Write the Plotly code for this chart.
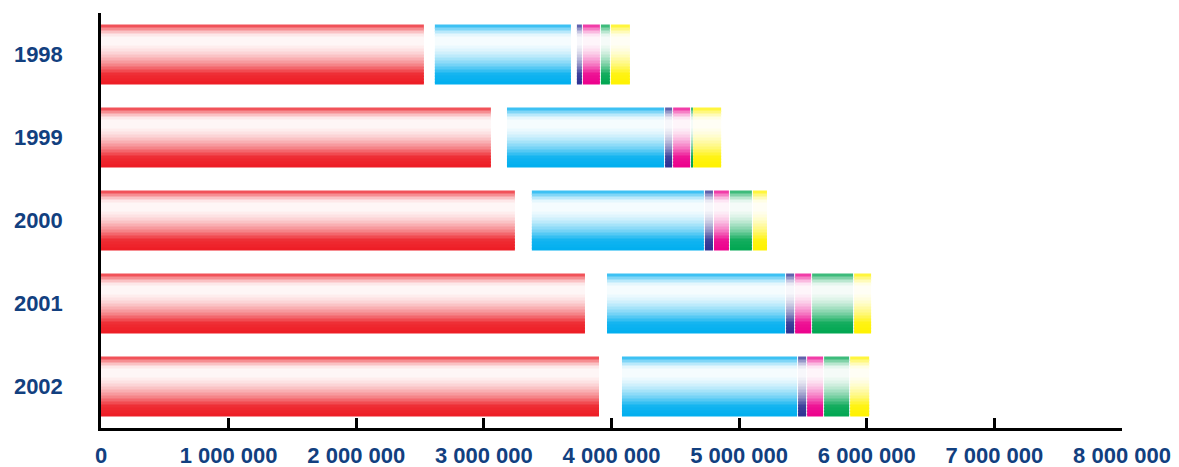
import numpy as np
import plotly.graph_objects as go

# ---- data ----
years = ["1998", "1999", "2000", "2001", "2002"]
red = [2538000, 3063000, 3251000, 3800000, 3910000]
gap_a = [78000, 118000, 125000, 165000, 172000]
blue = [1074000, 1239000, 1356000, 1403000, 1380000]
gap_b = [39000, 0, 0, 0, 0]
navy = [47000, 63000, 71000, 71000, 71000]
pink = [141000, 141000, 125000, 133000, 133000]
green = [78000, 16000, 180000, 329000, 204000]
yellow = [157000, 227000, 118000, 141000, 157000]

tick_values = [0, 1000000, 2000000, 3000000, 4000000, 5000000, 6000000, 7000000, 8000000]
tick_labels = ["0", "1 000 000", "2 000 000", "3 000 000", "4 000 000",
               "5 000 000", "6 000 000", "7 000 000", "8 000 000"]

# ---- styling ----
segments = [
    (red, (237, 28, 36), True),
    (gap_a, None, False),
    (blue, (0, 174, 239), True),
    (gap_b, None, False),
    (navy, (46, 49, 146), True),
    (pink, (236, 0, 140), True),
    (green, (0, 166, 81), True),
    (yellow, (255, 242, 0), True),
]

N_STRIPES = 20
BAR_W = 0.723
SEP = 8000  # small white separator at the right of each segment

# whiteness profile from top (0) to bottom (1)
prof_t = [0.0, 0.05, 0.1, 0.15, 0.2, 0.33, 0.42, 0.5, 0.58, 0.67, 0.75, 0.83, 1.0]
prof_w = [0.1, 0.38, 0.62, 0.84, 0.96, 0.96, 0.88, 0.78, 0.64, 0.47, 0.27, 0.07, 0.0]


def mix(c, w):
    r, g, b = [int(round(ch + (255 - ch) * w)) for ch in c]
    return f"rgb({r},{g},{b})"


fig = go.Figure()
starts = np.zeros(len(years))
stripe_w = BAR_W / N_STRIPES
for vals, col, visible in segments:
    v = np.array(vals, dtype=float)
    if visible:
        for i in range(N_STRIPES):
            t = (i + 0.5) / N_STRIPES
            w = float(np.interp(t, prof_t, prof_w))
            fig.add_trace(go.Bar(
                y=years,
                x=np.maximum(v - SEP, 0),
                base=starts.copy(),
                orientation="h",
                offset=-BAR_W / 2 + i * stripe_w,
                width=stripe_w * 1.5 if i < N_STRIPES - 1 else stripe_w,
                marker=dict(color=mix(col, w), line=dict(width=0)),
                showlegend=False,
                hoverinfo="skip",
            ))
    starts = starts + v

label_color = "#12407f"
font_family = "Liberation Sans, Arial, sans-serif"

# the page body has an 8px margin, so the figure is sized/offset to compensate
fig.update_layout(
    width=1171,
    height=459,
    autosize=False,
    barmode="overlay",
    paper_bgcolor="white",
    plot_bgcolor="white",
    margin=dict(l=93, r=57, t=5, b=39, autoexpand=False),
    showlegend=False,
    xaxis=dict(
        range=[0, 8000000],
        tickvals=tick_values,
        ticktext=tick_labels,
        ticks="inside",
        ticklen=10,
        tickwidth=2.5,
        tickcolor="black",
        showline=True,
        linewidth=2.5,
        linecolor="black",
        showgrid=False,
        zeroline=False,
        automargin=False,
        ticklabelstandoff=6,
        tickfont=dict(family=font_family, size=22, color=label_color, weight="bold"),
    ),
    yaxis=dict(
        type="category",
        categoryorder="array",
        categoryarray=years,
        range=[4.5, -0.5],
        showline=True,
        linewidth=2.5,
        linecolor="black",
        ticks="",
        showgrid=False,
        zeroline=False,
        automargin=False,
        ticklabelstandoff=31,
        tickfont=dict(family=font_family, size=22, color=label_color, weight="bold"),
    ),
)

fig.write_html("out.html")
